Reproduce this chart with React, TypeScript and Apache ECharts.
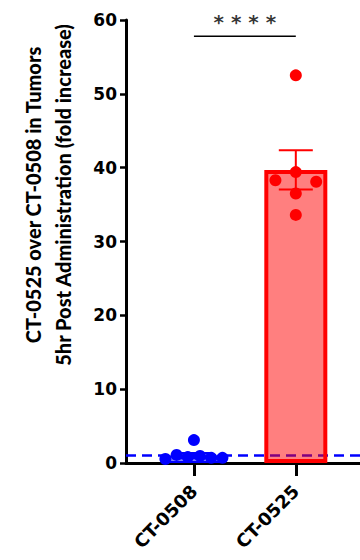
import React, { useEffect, useRef } from "react";
import * as echarts from "echarts";

const categories = ["CT-0508", "CT-0525"];
const categoryX = [1, 2];
const barMeans = [1.0, 39.7];
const barSem = [0.35, 2.65];
const blueX = [0.72, 0.83, 0.94, 1.0, 1.06, 1.17, 1.28];
const blueY = [0.55, 1.1, 0.8, 3.1, 0.95, 0.7, 0.7];
const redX = [1.8, 2.0, 2.2, 2.0, 2.0, 2.0];
const redY = [38.3, 39.4, 38.1, 36.5, 33.6, 52.5];
const referenceLevel = 1;
const yTicks = { min: 0, max: 60, interval: 10 };
const sigPair = [1, 2];
const sigLevel = 57.8;
const sigText = "* * * *";
const yTitleLines = ["CT-0525 over CT-0508 in Tumors", "5hr Post Administration (fold increase)"];

const X_MIN = 1 / 3;
const X_MAX = 2.63;

export default function App() {
  const ref = useRef<HTMLDivElement>(null);
  useEffect(() => {
    if (!ref.current) return;
    const chart = echarts.init(ref.current, null, { renderer: "svg" });
    const errData = categoryX.map((x, i) => [x, barMeans[i], barSem[i]]);
    const option: any = {
      animation: false,
      backgroundColor: "#fff",
      grid: { left: 126, right: 0, top: 20, bottom: 97, containLabel: false, outerBoundsMode: "none" },
      xAxis: {
        type: "value",
        min: X_MIN,
        max: X_MAX,
        splitLine: { show: false },
        axisLine: { show: true, onZero: false, lineStyle: { color: "#000", width: 3 } },
        axisTick: { show: true, customValues: categoryX, length: 13, lineStyle: { color: "#000", width: 3 } },
        axisLabel: {
          show: true,
          customValues: categoryX,
          rotate: 45,
          margin: 25,
          color: "#000",
          fontSize: 18,
          fontWeight: "bold",
          fontFamily: "DejaVu Sans",
          formatter: (v: number) => categories[Math.round(v) - 1] ?? "",
        },
      },
      yAxis: {
        type: "value",
        min: yTicks.min,
        max: yTicks.max,
        interval: yTicks.interval,
        splitLine: { show: false },
        axisLine: { show: true, lineStyle: { color: "#000", width: 3 } },
        axisTick: { show: true, length: 6, lineStyle: { color: "#000", width: 2.5 } },
        axisLabel: { margin: 9, color: "#000", fontSize: 17, fontWeight: "bold", fontFamily: "DejaVu Sans" },
      },
      graphic: yTitleLines.map((t, i) => ({
        type: "text",
        x: 33 + i * 30,
        y: 195,
        rotation: Math.PI / 2,
        style: {
          text: t,
          fontSize: 20,
          fontWeight: 900,
          fontFamily: "Lato",
          fill: "#000",
          align: "center",
          verticalAlign: "middle",
        },
      })),
      series: [
        {
          type: "line",
          data: [[X_MIN, referenceLevel], [X_MAX, referenceLevel]],
          symbol: "none",
          lineStyle: { color: "#0000ff", width: 2.5, type: [10, 6] },
          z: 1,
          silent: true,
        },
        {
          type: "bar",
          data: [
            { value: [categoryX[0], barMeans[0]], itemStyle: { color: "rgba(0,0,255,0.5)", borderColor: "#0000ff", borderWidth: 2 } },
            { value: [categoryX[1], barMeans[1]], itemStyle: { color: "rgba(255,0,0,0.5)", borderColor: "#ff0000", borderWidth: 4 } },
          ],
          barWidth: 63,
          z: 2,
        },
        {
          type: "custom",
          data: errData,
          z: 3,
          renderItem: (params: any, api: any) => {
            const x = api.value(0);
            const m = api.value(1);
            const s = api.value(2);
            const top = api.coord([x, m + s]);
            const bot = api.coord([x, m - s]);
            const color = params.dataIndex === 0 ? "#0000ff" : "#ff0000";
            const hw = 17;
            const st = { stroke: color, lineWidth: 2 };
            return {
              type: "group",
              children: [
                { type: "line", shape: { x1: top[0], y1: top[1], x2: bot[0], y2: bot[1] }, style: st },
                { type: "line", shape: { x1: top[0] - hw, y1: top[1], x2: top[0] + hw, y2: top[1] }, style: st },
                { type: "line", shape: { x1: bot[0] - hw, y1: bot[1], x2: bot[0] + hw, y2: bot[1] }, style: st },
              ],
            };
          },
        },
        {
          type: "scatter",
          data: blueX.map((x, i) => [x, blueY[i]]),
          symbolSize: 12,
          itemStyle: { color: "#0000ff", opacity: 1 },
          z: 4,
        },
        {
          type: "scatter",
          data: redX.map((x, i) => [x, redY[i]]),
          symbolSize: 12,
          itemStyle: { color: "#ff0000", opacity: 1 },
          z: 4,
        },
        {
          type: "line",
          data: sigPair.map((x) => [x, sigLevel]),
          symbol: "none",
          lineStyle: { color: "#000", width: 1.5 },
          z: 5,
        },
        {
          type: "scatter",
          data: [[(sigPair[0] + sigPair[1]) / 2, sigLevel]],
          symbolSize: 0,
          label: {
            show: true,
            position: "top",
            distance: 4,
            formatter: sigText,
            color: "#000",
            fontSize: 20,
            fontWeight: "bold",
            fontFamily: "DejaVu Sans",
          },
          z: 5,
        },
      ],
    };
    chart.setOption(option);
    return () => chart.dispose();
  }, []);
  return <div ref={ref} style={{ position: "fixed", left: 0, top: 0, width: 360, height: 560 }} />;
}
